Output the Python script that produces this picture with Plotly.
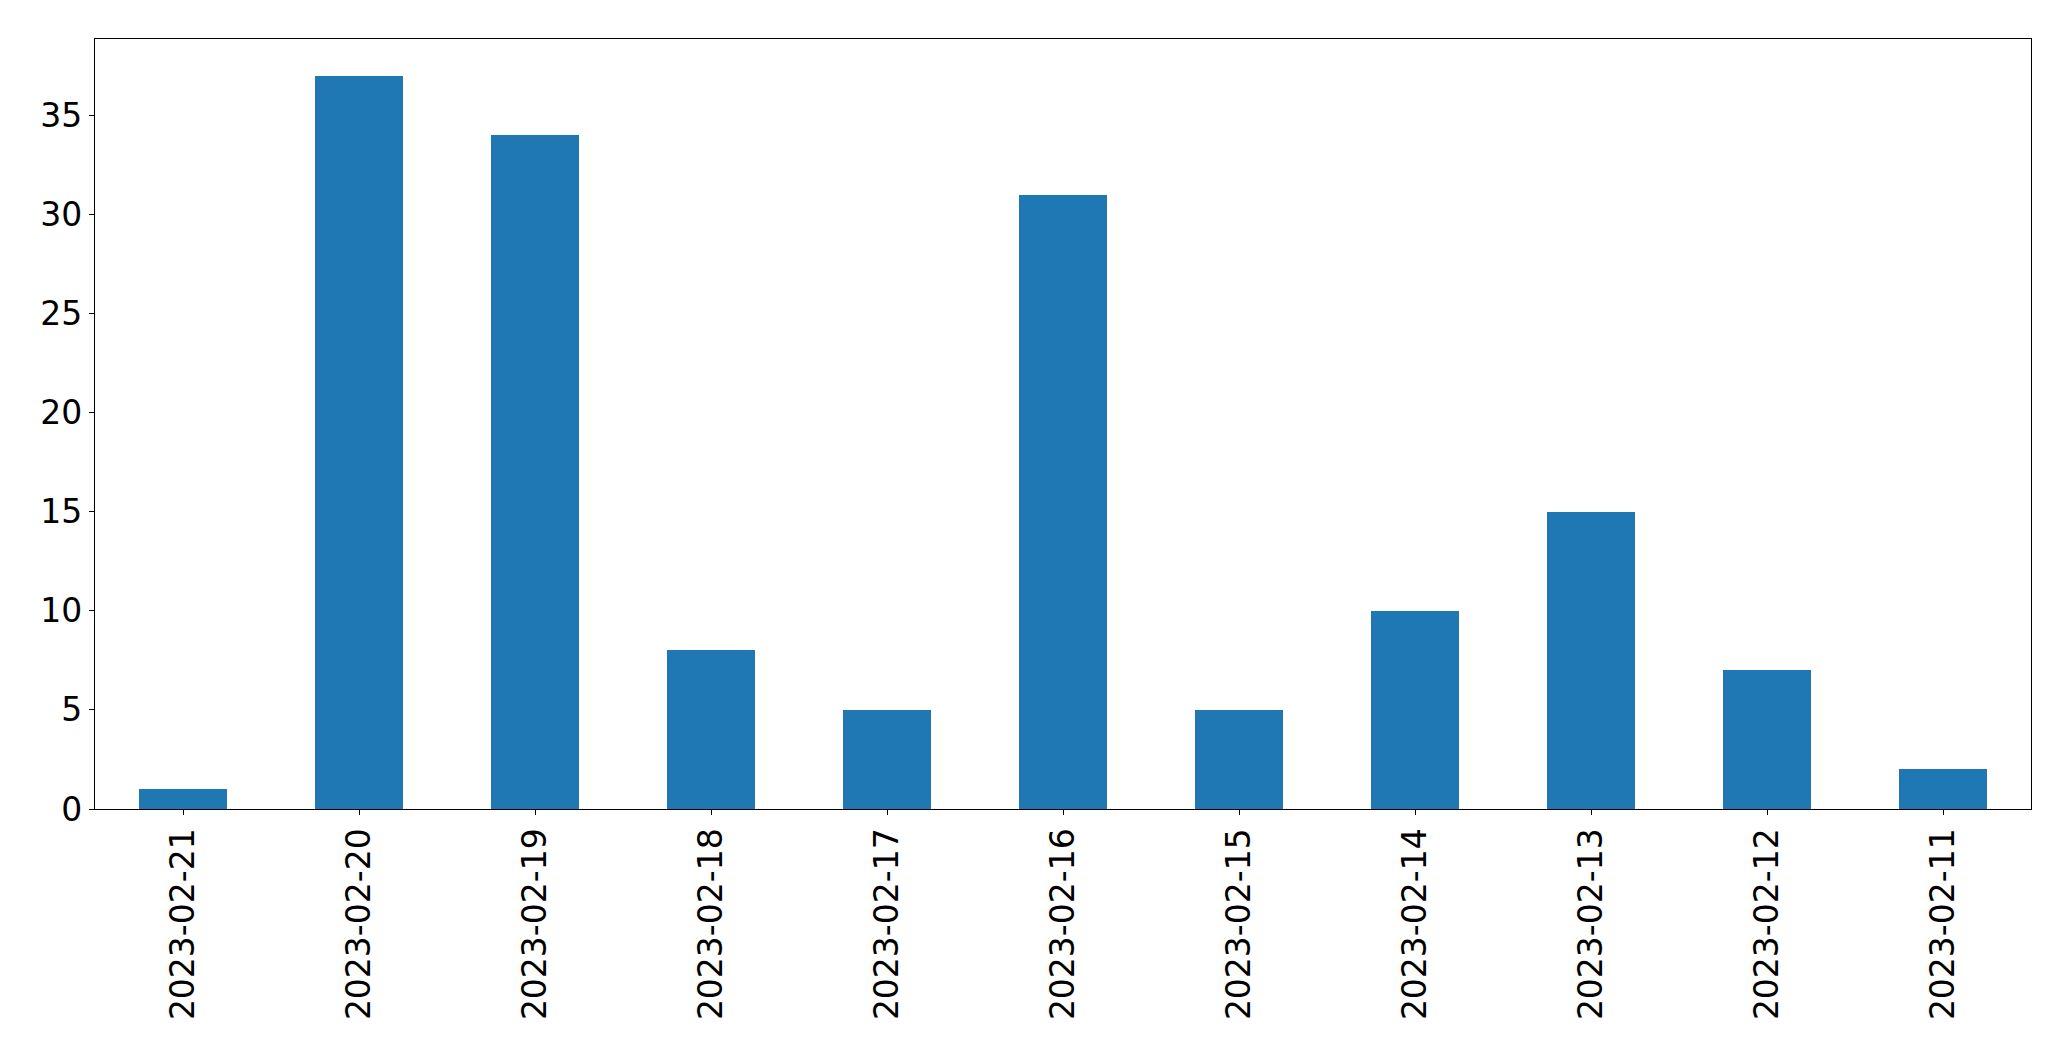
import plotly.graph_objects as go

dates = ["2023-02-21", "2023-02-20", "2023-02-19", "2023-02-18", "2023-02-17",
         "2023-02-16", "2023-02-15", "2023-02-14", "2023-02-13", "2023-02-12", "2023-02-11"]
counts = [1, 37, 34, 8, 5, 31, 5, 10, 15, 7, 2]
y_ticks = [0, 5, 10, 15, 20, 25, 30, 35]

fig = go.Figure(go.Bar(x=dates, y=counts, width=0.5, marker=dict(color="#1f77b4", line=dict(width=0))))

# page body has an 8px default margin; compensate so the plot area lands where the reference has it
fig.update_layout(
    width=2055, height=1045,
    margin=dict(l=87, r=32, t=31, b=244, pad=0),
    paper_bgcolor="white", plot_bgcolor="white",
    font=dict(family="DejaVu Sans", size=33, color="black"),
    showlegend=False,
    bargap=0,
)
fig.update_xaxes(
    type="category", range=[-0.5, 10.5], tickangle=-90, automargin=False,
    showline=True, linecolor="black", linewidth=1.3, mirror=True,
    ticks="outside", ticklen=5, tickwidth=1.3, tickcolor="black",
    showgrid=False, zeroline=False,
)
fig.update_yaxes(
    range=[0, 38.85], tickvals=y_ticks, automargin=False,
    showline=True, linecolor="black", linewidth=1.3, mirror=True,
    ticks="outside", ticklen=5, tickwidth=1.3, tickcolor="black",
    showgrid=False, zeroline=False,
)
fig.write_html("out.html")
